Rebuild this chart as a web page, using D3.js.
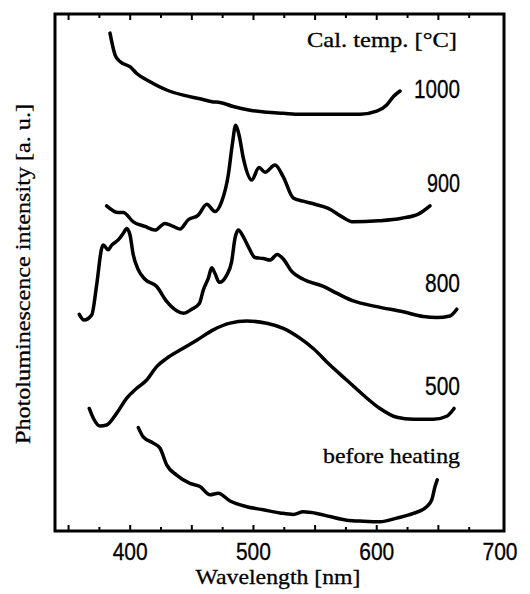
<!DOCTYPE html>
<html>
<head>
<meta charset="utf-8">
<script src="https://cdnjs.cloudflare.com/ajax/libs/d3/7.8.5/d3.min.js"></script>
<style>
body { margin: 0; background: #fff; }
text { stroke: #000; stroke-width: 0.3px; }
</style>
</head>
<body>
<svg width="530" height="594" id="chart"></svg>
<script>
// wavelength [nm] / intensity [a.u.]
var wl1000 = [383.6,387.7,391.7,399.8,405.3,416.1,429.6,443.1,456.6,467.4,472.8,483.6,497.2,510.7,524.2,537.7,564.8,586.4,600.0,608.1,613.4,618.9];
var pl1000 = [96.3,92.1,90.8,89.8,88.5,86.9,85.3,84.3,83.6,83.0,82.9,82.1,81.4,81.0,80.8,80.6,80.6,80.6,81.2,82.4,84.0,85.1];

var wl900 = [380.9,390.3,394.4,402.5,412.0,420.1,428.2,435.0,440.4,447.1,455.2,462.1,468.8,474.2,479.6,482.8,485.6,488.3,491.8,498.6,504.5,509.4,517.5,524.2,532.3,540.4,549.9,560.7,571.6,581.0,601.3,620.2,633.7,643.2];
var pl900 = [62.9,61.6,61.6,59.8,58.9,58.2,59.5,58.9,58.4,60.2,61.1,63.2,61.8,63.7,68.9,74.7,78.5,76.6,72.1,67.9,70.3,69.4,70.8,68.5,64.4,63.8,63.2,62.4,60.8,59.8,60.0,60.5,61.3,62.9];

var wl800 = [358.7,362.5,368.8,372.8,376.9,378.2,382.2,385.0,390.3,394.4,397.2,399.8,402.5,406.6,412.0,421.5,429.6,437.7,443.1,449.9,456.1,459.3,463.4,466.1,468.8,472.3,478.3,482.3,485.0,487.7,491.8,495.8,501.2,508.0,513.4,519.3,524.2,531.0,540.4,556.7,567.5,581.0,600.0,621.5,637.8,648.6,659.4,664.9];
var pl800 = [41.9,40.8,41.8,47.6,54.7,55.3,54.4,55.3,56.3,57.6,58.5,57.3,53.4,50.5,48.7,47.3,44.4,42.6,42.1,42.9,44.0,46.6,48.9,50.9,49.8,48.1,49.5,52.1,56.6,58.2,56.9,55.0,52.9,52.7,52.4,53.5,52.6,50.2,48.7,47.3,46.0,44.5,43.4,42.4,41.5,41.3,41.6,42.9];

var wl500 = [366.8,370.1,375.5,380.9,389.1,397.2,405.3,413.4,421.5,429.6,440.4,454.0,467.4,481.0,494.5,510.7,524.2,537.7,548.5,562.1,575.6,589.1,602.6,616.2,629.7,645.9,656.8,662.7];
var pl500 = [23.7,21.8,20.3,20.5,22.8,25.7,27.6,29.2,31.8,33.4,35.0,36.9,38.9,40.2,40.6,40.2,39.2,37.3,35.3,32.1,29.2,26.3,23.7,22.0,21.6,21.6,22.2,23.7];

var wlBefore = [406.6,410.6,418.7,424.2,429.6,437.7,448.5,456.6,464.7,471.5,481.0,494.5,508.0,521.5,532.3,540.4,551.3,562.1,575.6,589.1,602.6,616.2,629.7,640.5,644.6,647.3,649.1];
var plBefore = [20.0,18.2,17.0,16.0,12.8,10.8,9.2,8.6,7.0,7.3,5.8,4.7,4.1,3.5,3.2,3.7,3.4,2.8,2.1,1.9,1.8,2.5,3.4,4.7,6.0,8.6,9.9];

var seriesNames = ["1000", "900", "800", "500", "before heating"];
var xTickLabels = [400, 500, 600, 700];

var series = [
  {name: seriesNames[0], wl: wl1000, pl: pl1000},
  {name: seriesNames[1], wl: wl900, pl: pl900},
  {name: seriesNames[2], wl: wl800, pl: pl800},
  {name: seriesNames[3], wl: wl500, pl: pl500},
  {name: seriesNames[4], wl: wlBefore, pl: plBefore}
];

var svg = d3.select("#chart");
var plotL = 55, plotR = 500, plotT = 14, plotB = 531;

var x = d3.scaleLinear().domain([339, 700]).range([plotL, plotR]);
var y = d3.scaleLinear().domain([0, 100]).range([plotB, plotT]);

var serif = "'Liberation Serif', 'Times New Roman', serif";
var sans = "'Liberation Sans', Arial, sans-serif";

// frame
svg.append("rect")
  .attr("x", plotL).attr("y", plotT)
  .attr("width", plotR + 4 - plotL).attr("height", plotB - plotT)
  .attr("fill", "none").attr("stroke", "#000").attr("stroke-width", 3);

// inward ticks top + bottom, every 25 nm
var tickVals = d3.range(350, 700, 25);
var ticks = svg.append("g").attr("stroke", "#000").attr("stroke-width", 2);
tickVals.forEach(function(t) {
  var len = (t % 50 === 0) ? 6 : 4;
  ticks.append("line").attr("x1", x(t)).attr("x2", x(t)).attr("y1", plotB).attr("y2", plotB - len);
  ticks.append("line").attr("x1", x(t)).attr("x2", x(t)).attr("y1", plotT).attr("y2", plotT + len);
});

// tick labels
svg.append("g").selectAll("text")
  .data(xTickLabels)
  .enter().append("text")
  .attr("x", function(d) { return x(d); })
  .attr("y", 560)
  .attr("text-anchor", "middle")
  .attr("textLength", 35)
  .attr("lengthAdjust", "spacingAndGlyphs")
  .style("font-family", sans).style("font-size", "23px")
  .text(function(d) { return d; });

// curves
var line = d3.line()
  .curve(d3.curveMonotoneX)
  .x(function(d) { return x(d[0]); })
  .y(function(d) { return y(d[1]); });

svg.append("g").selectAll("path")
  .data(series)
  .enter().append("path")
  .attr("d", function(s) { return line(d3.zip(s.wl, s.pl)); })
  .attr("fill", "none")
  .attr("stroke", "#000")
  .attr("stroke-width", 3.5)
  .attr("stroke-linejoin", "round")
  .attr("stroke-linecap", "round");

// series labels
var labelPos = [
  {yb: 98, w: 46, font: sans, size: 26},
  {yb: 192, w: 33, font: sans, size: 26},
  {yb: 292, w: 35, font: sans, size: 26},
  {yb: 395, w: 35, font: sans, size: 26},
  {yb: 463, w: 137, font: serif, size: 21}
];
svg.append("g").selectAll("text")
  .data(series)
  .enter().append("text")
  .attr("x", 460)
  .attr("y", function(d, i) { return labelPos[i].yb; })
  .attr("text-anchor", "end")
  .attr("textLength", function(d, i) { return labelPos[i].w; })
  .attr("lengthAdjust", "spacingAndGlyphs")
  .style("font-family", function(d, i) { return labelPos[i].font; })
  .style("font-size", function(d, i) { return labelPos[i].size + "px"; })
  .text(function(d) { return d.name; });

svg.append("text")
  .attr("x", 457).attr("y", 47)
  .attr("text-anchor", "end")
  .attr("textLength", 150)
  .attr("lengthAdjust", "spacingAndGlyphs")
  .style("font-family", serif).style("font-size", "21px")
  .text("Cal. temp.  [\u00B0C]");

// axis titles
svg.append("text")
  .attr("x", 278).attr("y", 584)
  .attr("text-anchor", "middle")
  .attr("textLength", 165)
  .attr("lengthAdjust", "spacingAndGlyphs")
  .style("font-family", serif).style("font-size", "22px")
  .text("Wavelength [nm]");

svg.append("text")
  .attr("transform", "translate(30,274) rotate(-90)")
  .attr("text-anchor", "middle")
  .attr("textLength", 340)
  .attr("lengthAdjust", "spacingAndGlyphs")
  .style("font-family", serif).style("font-size", "22px")
  .text("Photoluminescence intensity [a. u.]");
</script>
</body>
</html>
